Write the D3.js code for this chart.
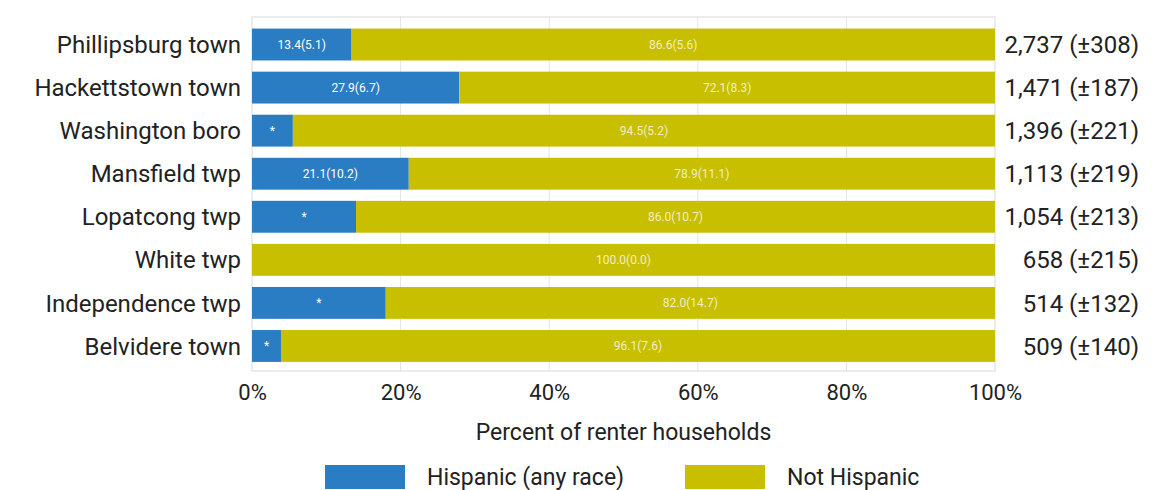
<!DOCTYPE html>
<html>
<head>
<meta charset="utf-8">
<script src="https://cdn.jsdelivr.net/npm/d3@7"></script>
<style>
  body { margin: 0; background: #fff; }
  svg text { font-family: Roboto, "Noto Sans", sans-serif; }
</style>
</head>
<body>
<div id="chart"></div>
<script>
// data
var places = ["Phillipsburg town", "Hackettstown town", "Washington boro", "Mansfield twp",
  "Lopatcong twp", "White twp", "Independence twp", "Belvidere town"];
var hispanic = [13.4, 27.9, 5.5, 21.1, 14.0, 0, 18.0, 3.9];
var hispanicMoe = [5.1, 6.7, null, 10.2, null, null, null, null];   // null -> "*"
var notHispanic = [86.6, 72.1, 94.5, 78.9, 86.0, 100.0, 82.0, 96.1];
var notHispanicMoe = [5.6, 8.3, 5.2, 11.1, 10.7, 0.0, 14.7, 7.6];
var totals = [2737, 1471, 1396, 1113, 1054, 658, 514, 509];
var totalMoe = [308, 187, 221, 219, 213, 215, 132, 140];
var xTicks = [0, 20, 40, 60, 80, 100];
var seriesNames = ["Hispanic (any race)", "Not Hispanic"];
var seriesColors = ["#2a7dc2", "#c8bf00"];

var width = 1160, height = 490;

var svg = d3.select("#chart").append("svg")
  .attr("width", width)
  .attr("height", height);

var x = d3.scaleLinear().domain([0, 100]).range([252, 995]);
var y = d3.scaleBand().domain(places).range([23, 367.5]).paddingInner(0.26).paddingOuter(0.13);
var idx = d => places.indexOf(d);

// frame
svg.append("rect")
  .attr("x", 252).attr("y", 17)
  .attr("width", 995 - 252).attr("height", 371 - 17)
  .attr("fill", "none")
  .attr("stroke", "#d9d9d9");

// gridlines
svg.append("g").selectAll("line")
  .data(xTicks.slice(1, -1))
  .join("line")
  .attr("x1", d => x(d)).attr("x2", d => x(d))
  .attr("y1", 17).attr("y2", 371)
  .attr("stroke", "#e4e4e4");

var rows = svg.append("g").selectAll("g")
  .data(places)
  .join("g")
  .attr("transform", d => "translate(0," + y(d) + ")");

rows.append("rect")
  .attr("x", x(0))
  .attr("width", d => x(hispanic[idx(d)]) - x(0))
  .attr("height", y.bandwidth())
  .attr("fill", seriesColors[0]);

rows.append("rect")
  .attr("x", d => x(hispanic[idx(d)]))
  .attr("width", d => x(hispanic[idx(d)] + notHispanic[idx(d)]) - x(hispanic[idx(d)]))
  .attr("height", y.bandwidth())
  .attr("fill", seriesColors[1]);

// labels inside bars
rows.filter(d => hispanic[idx(d)] > 0).append("text")
  .attr("x", d => x(hispanic[idx(d)] / 2))
  .attr("y", y.bandwidth() / 2)
  .attr("dy", "0.35em")
  .attr("text-anchor", "middle")
  .attr("fill", "#fff")
  .style("font-size", "12px")
  .text(d => {
    var i = idx(d);
    return hispanicMoe[i] == null ? "*" : hispanic[i].toFixed(1) + "(" + hispanicMoe[i].toFixed(1) + ")";
  });

rows.append("text")
  .attr("x", d => x(hispanic[idx(d)] + notHispanic[idx(d)] / 2))
  .attr("y", y.bandwidth() / 2)
  .attr("dy", "0.35em")
  .attr("text-anchor", "middle")
  .attr("fill", "#f2eec0")
  .style("font-size", "12px")
  .text(d => notHispanic[idx(d)].toFixed(1) + "(" + notHispanicMoe[idx(d)].toFixed(1) + ")");

// place names
rows.append("text")
  .attr("x", 241)
  .attr("y", y.bandwidth() / 2)
  .attr("dy", "0.36em")
  .attr("text-anchor", "end")
  .attr("fill", "#222")
  .style("font-size", "24px")
  .text(d => d);

// totals
var fmt = d3.format(",");
rows.append("text")
  .attr("x", 1139)
  .attr("y", y.bandwidth() / 2)
  .attr("dy", "0.36em")
  .attr("text-anchor", "end")
  .attr("fill", "#222")
  .style("font-size", "24px")
  .text(d => fmt(totals[idx(d)]) + " (\u00b1" + totalMoe[idx(d)] + ")");

// x axis
var xAxis = d3.axisBottom(x)
  .tickValues(xTicks)
  .tickSize(0)
  .tickPadding(13)
  .tickFormat(d => d + "%");

svg.append("g")
  .attr("transform", "translate(0,371)")
  .call(xAxis)
  .call(g => g.select(".domain").remove())
  .call(g => g.selectAll("text")
    .attr("fill", "#222")
    .style("font-size", "22px")
    .style("font-family", "Roboto, sans-serif"));

svg.append("text")
  .attr("x", x(50))
  .attr("y", 440)
  .attr("text-anchor", "middle")
  .attr("fill", "#222")
  .style("font-size", "23px")
  .text("Percent of renter households");

// legend
var legendX = [325, 685];
var legend = svg.append("g").selectAll("g")
  .data(seriesNames)
  .join("g")
  .attr("transform", (d, i) => "translate(" + legendX[i] + ",465)");

legend.append("rect")
  .attr("width", 80)
  .attr("height", 24)
  .attr("fill", (d, i) => seriesColors[i]);

legend.append("text")
  .attr("x", 102)
  .attr("y", 12)
  .attr("dy", "0.36em")
  .attr("fill", "#222")
  .style("font-size", "23px")
  .text(d => d);
</script>
</body>
</html>
